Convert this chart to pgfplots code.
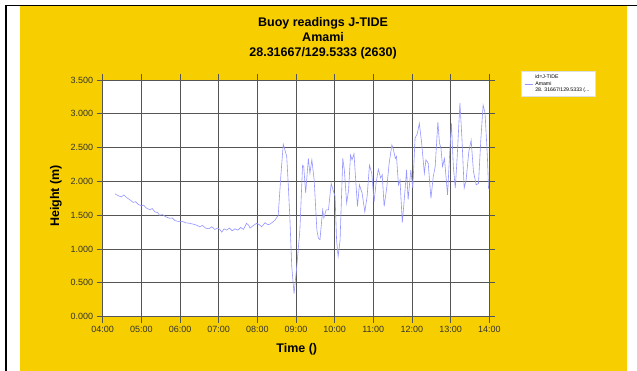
\documentclass[border=0pt]{standalone}
\usepackage{pgfplots}
\pgfplotsset{compat=1.18}
\usepackage{fontspec}
\setmainfont{Liberation Sans}
\definecolor{panel}{RGB}{247,207,0}
\definecolor{trace}{RGB}{150,150,255}
\definecolor{gridc}{RGB}{85,85,85}

\begin{document}
\begin{tikzpicture}[x=1pt,y=1pt]
\useasboundingbox (0,0) rectangle (637,371);
\fill[white] (0,0) rectangle (637,371);
\fill[panel] (20,0) rectangle (626.7,364.7);
\draw[black,line width=1.8pt] (6,0) -- (6,365.5) -- (637,365.5);

\begin{axis}[
  at={(102.7pt,54.3pt)}, anchor=south west,
  scale only axis, width=386.6pt, height=236.7pt,
  xmin=4, xmax=14, ymin=0, ymax=3.5,
  xtick={4,5,...,14},
  xticklabels={04:00,05:00,06:00,07:00,08:00,09:00,10:00,11:00,12:00,13:00,14:00},
  ytick={0,0.5,...,3.5},
  yticklabel style={/pgf/number format/.cd,fixed,fixed zerofill,precision=3},
  /pgf/number format/assume math mode=true,
  tick label style={font=\fontsize{9}{10}\selectfont, text=black!80},
  tick align=outside, major tick length=6pt,
  tick style={gridc, line width=0.8pt},
  grid=major,
  major grid style={gridc, line width=0.8pt},
  axis line style={gridc, line width=0.8pt},
  axis background/.style={fill=white},
  title={Buoy readings J-TIDE\\Amami\\28.31667/129.5333 (2630)},
  title style={at={(axis description cs:0.57,1.150)}, anchor=center, align=center,
    font=\bfseries\fontsize{12.5}{14.8}\selectfont},
  xlabel={Time ()},
  ylabel={Height (m)},
  every axis x label/.style={at={(axis description cs:0.502,-0.138)}, anchor=center,
    font=\bfseries\fontsize{12.5}{14}\selectfont},
  every axis y label/.style={at={(axis description cs:-0.121,0.51)}, anchor=center, rotate=90,
    font=\bfseries\fontsize{12.5}{14}\selectfont},
  legend style={at={(axis description cs:1.082,1.038)}, anchor=north west,
    fill=white, draw=black!12, font=\fontsize{5.2}{6.6}\selectfont,
    inner xsep=3pt, inner ysep=2.5pt,
    nodes={align=left, inner xsep=2.5pt, inner ysep=1pt}},
  legend image code/.code={\draw[#1] (0pt,0pt) -- (8pt,0pt);},
  clip=true,
]
\addplot[trace, line width=0.6pt] coordinates {
(4.32,1.815) (4.40,1.79) (4.48,1.77) (4.55,1.80) (4.62,1.76) (4.70,1.73) (4.79,1.69)
(4.85,1.70) (4.92,1.66) (5.00,1.64) (5.06,1.65) (5.12,1.61) (5.22,1.58) (5.28,1.60)
(5.35,1.55) (5.42,1.54) (5.47,1.50) (5.55,1.51) (5.62,1.48) (5.73,1.455) (5.80,1.46)
(5.87,1.42) (5.99,1.405) (6.06,1.41) (6.14,1.39) (6.25,1.38) (6.33,1.37) (6.40,1.36)
(6.51,1.33) (6.58,1.35) (6.66,1.31) (6.75,1.30) (6.82,1.33) (6.90,1.29) (6.97,1.31)
(7.03,1.29) (7.08,1.25) (7.14,1.30) (7.20,1.28) (7.28,1.31) (7.35,1.27) (7.42,1.30)
(7.50,1.28) (7.57,1.32) (7.64,1.29) (7.72,1.38) (7.78,1.35) (7.81,1.31) (7.90,1.35)
(7.98,1.38) (8.05,1.36) (8.11,1.33) (8.20,1.39) (8.27,1.36) (8.33,1.37) (8.40,1.40)
(8.46,1.43) (8.54,1.50) (8.61,2.10) (8.67,2.55) (8.76,2.37) (8.80,1.95) (8.84,1.48)
(8.89,0.74) (8.95,0.34) (9.02,0.74) (9.10,1.28) (9.17,2.24) (9.20,2.22) (9.25,1.83)
(9.32,2.34) (9.36,2.12) (9.41,2.32) (9.47,2.02) (9.54,1.28) (9.58,1.16) (9.62,1.14)
(9.69,1.58) (9.72,1.46) (9.78,1.58) (9.84,1.58) (9.91,1.97) (9.96,1.87) (10.01,1.78)
(10.05,1.13) (10.09,0.89) (10.14,1.13) (10.21,2.34) (10.25,2.17) (10.31,1.68) (10.36,1.87)
(10.41,2.39) (10.45,2.32) (10.50,2.41) (10.55,1.97) (10.59,1.63) (10.64,1.95) (10.71,1.83)
(10.78,1.55) (10.84,1.78) (10.90,2.24) (10.96,2.12) (11.02,1.70) (11.07,1.97) (11.13,2.18)
(11.19,2.05) (11.23,2.10) (11.28,1.63) (11.35,1.92) (11.41,2.27) (11.48,2.54) (11.52,2.47)
(11.57,2.34) (11.60,2.37) (11.65,1.95) (11.69,2.02) (11.75,1.39) (11.82,1.87) (11.86,2.17)
(11.90,1.73) (11.97,2.17) (12.02,1.90) (12.08,2.64) (12.14,2.71) (12.19,2.86) (12.25,2.57)
(12.32,2.12) (12.36,2.32) (12.42,2.27) (12.49,1.75) (12.55,2.07) (12.60,2.22) (12.67,2.88)
(12.71,2.57) (12.75,2.49) (12.79,2.22) (12.84,2.34) (12.88,2.07) (12.92,1.80) (12.98,2.47)
(13.02,2.86) (13.07,2.22) (13.12,1.90) (13.17,2.37) (13.24,3.16) (13.29,2.66) (13.35,1.90)
(13.40,2.02) (13.47,2.44) (13.53,2.61) (13.59,2.15) (13.66,1.95) (13.72,1.97) (13.78,2.61)
(13.84,3.13) (13.89,3.01) (13.95,2.37) (13.98,1.90) (14.00,1.88)
};
\addlegendentry{id=J-TIDE\\Amami\\28. 31667/129.5333 (...}
\end{axis}
\end{tikzpicture}
\end{document}
